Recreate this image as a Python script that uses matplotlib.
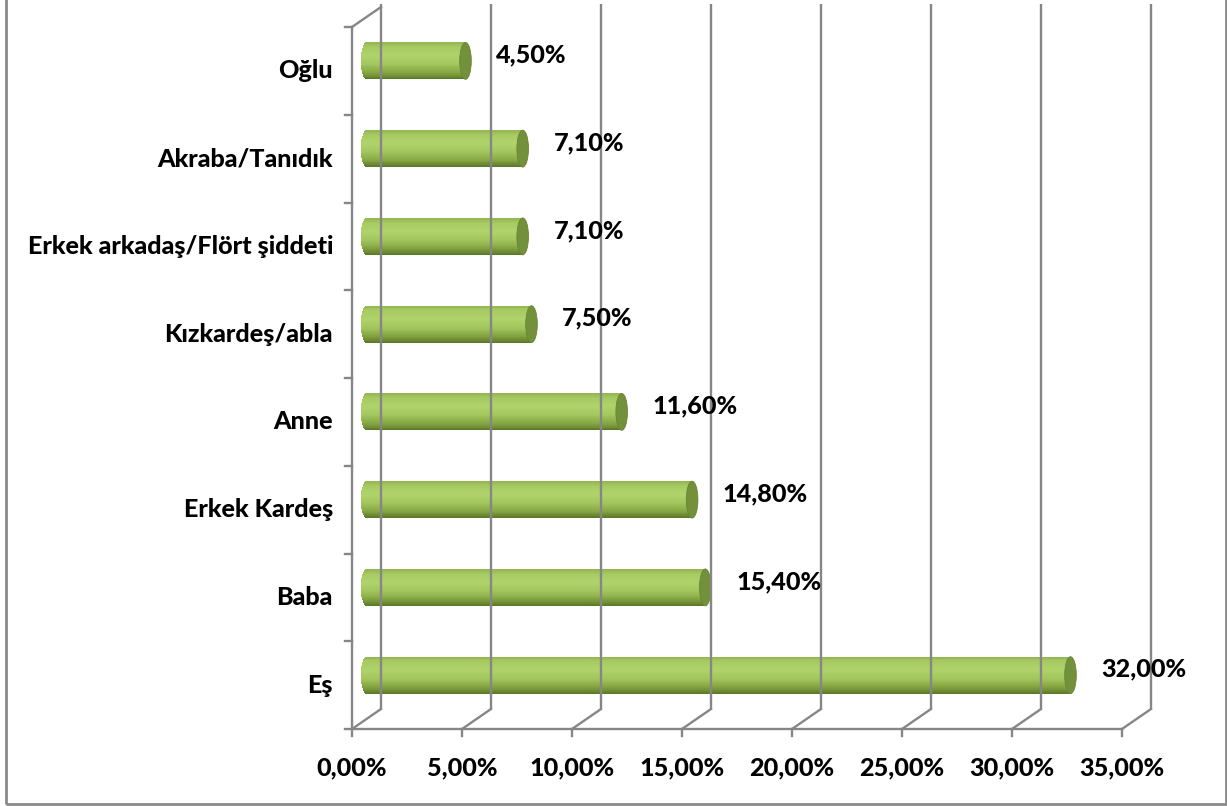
import numpy as np
import matplotlib
matplotlib.use("Agg")
import matplotlib.pyplot as plt
from matplotlib.patches import Ellipse, Rectangle
from matplotlib.colors import LinearSegmentedColormap
from matplotlib.transforms import offset_copy

# data, top to bottom as in the chart
categories = ["Oğlu", "Akraba/Tanıdık", "Erkek arkadaş/Flört şiddeti", "Kızkardeş/abla",
              "Anne", "Erkek Kardeş", "Baba", "Eş"]
values = [4.5, 7.1, 7.1, 7.5, 11.6, 14.8, 15.4, 32.0]
value_labels = ["4,50%", "7,10%", "7,10%", "7,50%", "11,60%", "14,80%", "15,40%", "32,00%"]
xticks = [0, 5, 10, 15, 20, 25, 30, 35]
xtick_labels = ["0,00%", "5,00%", "10,00%", "15,00%", "20,00%", "25,00%", "30,00%", "35,00%"]

W, H = 1227, 806
DPI = 100
GRID = "#868686"
FONT = dict(family="Lato", weight=900, size=18.1, color="black")

fig = plt.figure(figsize=(W / DPI, H / DPI), dpi=DPI)
fig.patch.set_facecolor("white")

# axes = back wall of the 3d box (pixels measured on the reference)
bx0, bx1, by_top, by_bot = 381, 1151, 7, 709
ax = fig.add_axes([bx0 / W, (H - by_bot) / H, (bx1 - bx0) / W, (by_bot - by_top) / H])
ax.set_xlim(0, 35)
ax.set_ylim(len(categories) - 0.5, -0.5)
ax.axis("off")

# depth offsets in pixels: middle plane (bars) and front plane (axes)
DX, DY = 29, 20
t_mid = offset_copy(ax.transData, fig=fig, x=-DX / 2, y=-DY / 2, units="dots")
t_front = offset_copy(ax.transData, fig=fig, x=-DX, y=-DY, units="dots")

ylo, yhi = -0.5, len(categories) - 0.5
lw = 1.7


def fig_line(p, q):
    fig.add_artist(plt.Line2D([p[0] / W, q[0] / W], [p[1] / H, q[1] / H], color=GRID, lw=lw))


# back wall gridlines
for x in xticks:
    ax.plot([x, x], [yhi, ylo - 0.03], color=GRID, lw=lw, clip_on=False, solid_capstyle="butt")
# floor diagonals + tick marks
for x in xticks:
    b = ax.transData.transform((x, yhi))
    f = t_front.transform((x, yhi))
    fig_line(f, b)
    fig_line(f, (f[0], f[1] - 7))
ax.plot([0, 35], [yhi, yhi], color=GRID, lw=lw, transform=t_front, clip_on=False)
# left wall
ax.plot([0, 0], [ylo, yhi], color=GRID, lw=lw, transform=t_front, clip_on=False)
fig_line(t_front.transform((0, ylo)), ax.transData.transform((0, ylo)))
for k in range(len(categories) + 1):
    f = t_front.transform((0, ylo + k))
    fig_line(f, (f[0] - 7, f[1]))

# cylinders
cyl = LinearSegmentedColormap.from_list("cyl", [
    (0.0, "#93b550"), (0.12, "#a6c962"), (0.35, "#b0d36c"), (0.6, "#a2c55c"),
    (0.8, "#88a845"), (0.93, "#6c8a32"), (1.0, "#5a7528")])
bar_h = 0.42
cap_a = 5.8 / ((bx1 - bx0) / 35)  # ellipse half-width in data units
n = 40
for i, v in enumerate(values):
    ts = (np.arange(n) + 0.5) / n
    ys = i - bar_h / 2 + ts * bar_h
    u = 2 * ts - 1
    left = -cap_a * np.sqrt(np.clip(1 - u ** 2, 0, 1))
    ax.barh(ys, v - left, height=bar_h / n * 1.05, left=left, color=cyl(ts),
            linewidth=0, transform=t_mid, clip_on=False)
    ax.add_patch(Ellipse((v, i), 2 * cap_a, bar_h, facecolor="#73903a",
                         edgecolor="#6a8534", lw=0.6, transform=t_mid, clip_on=False))
    lab_t = offset_copy(t_mid, fig=fig, x=25, y=6, units="dots")
    ax.text(v + cap_a, i, value_labels[i], transform=lab_t, ha="left", va="center", **FONT)

# category labels
cat_t = offset_copy(t_front, fig=fig, x=-19, y=0, units="dots")
for i, c in enumerate(categories):
    ax.text(0, i, c, transform=cat_t, ha="right", va="center", **FONT)

# x tick labels
xt_t = offset_copy(t_front, fig=fig, x=0, y=-39, units="dots")
for x, s in zip(xticks, xtick_labels):
    ax.text(x, yhi, s, transform=xt_t, ha="center", va="center", **FONT)

# outer chart border
fig.add_artist(Rectangle((6 / W, 2.5 / H), 1219.5 / W, 820 / H, fill=False,
                         edgecolor="#8a8a8a", lw=2, transform=fig.transFigure))

fig.savefig("out.png", dpi=DPI)
